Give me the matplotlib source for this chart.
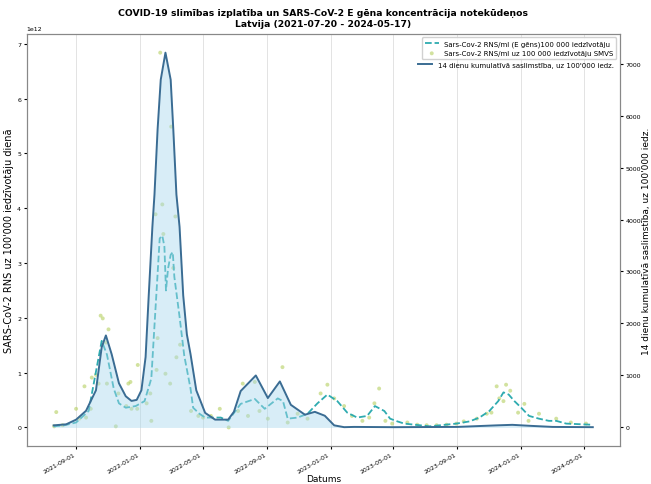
import matplotlib
matplotlib.use("Agg")
import matplotlib.pyplot as plt
import matplotlib.dates as mdates
import numpy as np
import pandas as pd

# 14 dienu kumulativa saslimstiba uz 100 000 iedz. (labaja ass)
inc_dates = ["2021-07-20", "2021-08-13", "2021-09-01", "2021-09-20", "2021-10-09",
             "2021-10-20", "2021-10-28", "2021-11-08", "2021-11-22", "2021-12-05",
             "2021-12-16", "2021-12-26", "2022-01-04", "2022-01-12", "2022-01-18",
             "2022-01-25", "2022-01-29", "2022-02-04", "2022-02-10", "2022-02-19",
             "2022-03-01", "2022-03-06", "2022-03-12", "2022-03-18", "2022-03-25",
             "2022-04-01", "2022-04-08", "2022-04-19", "2022-05-06", "2022-05-25",
             "2022-06-19", "2022-06-30", "2022-07-13", "2022-08-11", "2022-09-03",
             "2022-09-26", "2022-10-17", "2022-11-13", "2022-12-02", "2022-12-21",
             "2023-01-08", "2023-01-27", "2023-02-15", "2023-05-01", "2023-09-01",
             "2023-11-15", "2023-12-15", "2024-01-20", "2024-03-01", "2024-05-17"]
inc_values = [40, 60, 150, 320, 715,
              1545, 1770, 1410, 850, 600,
              510, 530, 715, 1355, 2540,
              3860, 4480, 5740, 6690, 7210,
              6690, 5740, 4480, 3860, 2540,
              1790, 1410, 715, 280, 150,
              150, 300, 700, 1000, 565,
              885, 435, 245, 300, 225,
              40, 5, 10, 5, 10,
              40, 50, 30, 10, 5]

# SARS-CoV-2 RNS (E gens) uz 100 000 iedz. - videja (kreisa ass, 1e12)
rna_dates = ["2021-07-20", "2021-08-10", "2021-09-01", "2021-09-25", "2021-10-10",
             "2021-10-20", "2021-10-30", "2021-11-12", "2021-11-22", "2021-12-05",
             "2021-12-24", "2022-01-10", "2022-01-21", "2022-01-23", "2022-01-28",
             "2022-02-02", "2022-02-08", "2022-02-13", "2022-02-17", "2022-02-20",
             "2022-02-24", "2022-03-01", "2022-03-05", "2022-03-08", "2022-03-18",
             "2022-03-27", "2022-04-08", "2022-04-13", "2022-04-25", "2022-05-06",
             "2022-06-05", "2022-06-19", "2022-07-13", "2022-08-09", "2022-08-28",
             "2022-09-22", "2022-10-02", "2022-10-11", "2022-10-30", "2022-11-18",
             "2022-12-07", "2022-12-26", "2023-01-14", "2023-02-02", "2023-02-21",
             "2023-03-12", "2023-03-27", "2023-04-14", "2023-04-25", "2023-05-09",
             "2023-05-22", "2023-07-10", "2023-08-30", "2023-09-24", "2023-10-13",
             "2023-11-01", "2023-11-18", "2023-11-28", "2023-12-08", "2023-12-19",
             "2024-01-01", "2024-01-16", "2024-02-04", "2024-02-23", "2024-03-08",
             "2024-03-27", "2024-05-13", "2024-05-17"]
rna_values = [0.02, 0.04, 0.09, 0.30, 1.07,
              1.58, 1.33, 0.71, 0.44, 0.36,
              0.39, 0.48, 0.83, 0.90, 1.70,
              2.49, 3.45, 3.50, 3.30, 2.50,
              2.90, 3.15, 3.20, 2.75, 2.02,
              1.31, 0.71, 0.36, 0.25, 0.18,
              0.18, 0.12, 0.43, 0.52, 0.34,
              0.53, 0.48, 0.16, 0.18, 0.25,
              0.44, 0.60, 0.48, 0.27, 0.18,
              0.21, 0.39, 0.30, 0.16, 0.11,
              0.07, 0.02, 0.07, 0.11, 0.18,
              0.30, 0.48, 0.64, 0.60, 0.48,
              0.36, 0.21, 0.16, 0.12, 0.12,
              0.07, 0.05, 0.05]

# SMVS paraugi (kreisa ass, 1e12)
smp_dates = ["2021-07-21", "2021-07-25", "2021-08-06", "2021-09-01", "2021-09-07",
             "2021-09-17", "2021-09-20", "2021-09-29", "2021-10-01", "2021-10-09",
             "2021-10-14", "2021-10-18", "2021-10-22", "2021-10-28", "2021-10-30",
             "2021-11-02", "2021-11-16", "2021-11-21", "2021-12-06", "2021-12-10",
             "2021-12-14", "2021-12-16", "2021-12-27", "2021-12-28", "2022-01-14",
             "2022-01-21", "2022-01-23", "2022-01-31", "2022-02-02", "2022-02-04",
             "2022-02-09", "2022-02-13", "2022-02-15", "2022-02-19", "2022-02-28",
             "2022-03-02", "2022-03-06", "2022-03-10", "2022-03-12", "2022-03-19",
             "2022-04-09", "2022-04-23", "2022-05-02", "2022-05-17", "2022-06-03",
             "2022-06-20", "2022-07-08", "2022-07-17", "2022-07-27", "2022-08-09",
             "2022-08-18", "2022-09-03", "2022-10-01", "2022-10-11", "2022-10-30",
             "2022-11-18", "2022-12-13", "2022-12-26", "2023-01-08", "2023-01-27",
             "2023-02-11", "2023-03-03", "2023-03-16", "2023-03-26", "2023-04-04",
             "2023-04-16", "2023-04-29", "2023-05-28", "2023-06-16", "2023-07-04",
             "2023-07-23", "2023-08-11", "2023-08-30", "2023-09-13", "2023-10-08",
             "2023-10-27", "2023-11-05", "2023-11-15", "2023-11-20", "2023-11-28",
             "2023-12-03", "2023-12-11", "2023-12-26", "2024-01-07", "2024-01-15",
             "2024-02-04", "2024-03-08", "2024-04-05", "2024-05-04"]
smp_values = [0.02, 0.28, 0.04, 0.34, 0.16,
              0.75, 0.18, 0.34, 0.91, 0.96,
              0.80, 2.04, 1.99, 1.55, 0.80,
              1.79, 0.02, 0.62, 0.39, 0.80,
              0.83, 0.34, 0.34, 1.14, 0.44,
              0.62, 0.12, 3.89, 1.05, 1.63,
              6.84, 4.07, 3.53, 0.98, 0.80,
              5.49, 2.91, 3.85, 1.28, 1.51,
              0.30, 0.21, 0.18, 0.21, 0.34,
              0.00, 0.30, 0.80, 0.21, 0.83,
              0.30, 0.16, 1.10, 0.09, 0.25,
              0.16, 0.62, 0.78, 0.53, 0.39,
              0.21, 0.12, 0.18, 0.44, 0.71,
              0.12, 0.07, 0.09, 0.05, 0.04,
              0.04, 0.05, 0.07, 0.11, 0.16,
              0.25, 0.27, 0.75, 0.53, 0.48,
              0.78, 0.67, 0.27, 0.43, 0.12,
              0.25, 0.16, 0.09, 0.07]

inc_x = pd.to_datetime(inc_dates)
rna_x = pd.to_datetime(rna_dates)
smp_x = pd.to_datetime(smp_dates)

fig, ax1 = plt.subplots(figsize=(6.51, 4.85), dpi=100)
fig.subplots_adjust(left=0.041, right=0.952, top=0.928, bottom=0.078)

ax1.plot(rna_x, np.array(rna_values) * 1e12, linestyle="--", color="#2eabb0", lw=1.3,
         label="Sars-Cov-2 RNS/ml (E gēns)100 000 iedzīvotāju")
ax1.scatter(smp_x, np.array(smp_values) * 1e12, s=8, color="#b5cf5f", alpha=0.6,
            edgecolors="none", label="Sars-Cov-2 RNS/ml uz 100 000 iedzīvotāju SMVS")
ax1.set_ylabel("SARS-CoV-2 RNS uz 100'000 iedzīvotāju dienā", fontsize=7, labelpad=2)
ax1.set_xlabel("Datums", fontsize=6.5, labelpad=0)
ax1.tick_params(labelsize=4.5, length=2, pad=2)
ax1.yaxis.get_offset_text().set_fontsize(4.5)
ax1.grid(axis="x", color="#e3e3e3", lw=0.7)
ax1.set_axisbelow(True)

ax2 = ax1.twinx()
ax2.fill_between(inc_x, inc_values, color="#a9d8ee", alpha=0.45, lw=0)
ax2.plot(inc_x, inc_values, color="#3a6c93", lw=1.4,
         label="14 dienu kumulatīvā saslimstība, uz 100'000 iedz.")
ax2.set_ylabel("14 dienu kumulatīvā saslimstība, uz 100'000 iedz.", fontsize=6.5,
               labelpad=1)
ax2.set_yticks(range(0, 8000, 1000))
ax2.tick_params(labelsize=4.5, length=2, pad=2)

ax1.xaxis.set_major_locator(mdates.MonthLocator(bymonth=[1, 5, 9]))
ax1.xaxis.set_major_formatter(mdates.DateFormatter("%Y-%m-%d"))
for lab in ax1.get_xticklabels():
    lab.set_rotation(30)
    lab.set_ha("right")

for ax in (ax1, ax2):
    for sp in ax.spines.values():
        sp.set_color("#888888")
        sp.set_linewidth(0.8)

ax1.legend(loc="upper right", fontsize=5, framealpha=0.9, edgecolor="#cccccc")
ax2.legend(loc="upper right", bbox_to_anchor=(1.0, 0.948), fontsize=5,
           frameon=False)

plt.title("COVID-19 slimības izplatība un SARS-CoV-2 E gēna koncentrācija notekūdeņos\n"
          "Latvija (2021-07-20 - 2024-05-17)", fontsize=6.7, fontweight="bold")

fig.savefig("out.png", dpi=100)
